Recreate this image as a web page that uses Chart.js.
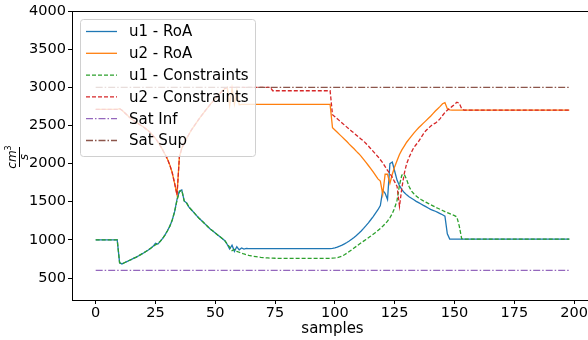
<!DOCTYPE html>
<html>
<head>
<meta charset="utf-8">
<script src="https://cdn.jsdelivr.net/npm/chart.js@4.4.0/dist/chart.umd.min.js"></script>
<style>
  html, body { margin: 0; padding: 0; background: #fff; overflow: hidden; }
  #wrap { width: 600px; height: 340px; }
</style>
</head>
<body>
<div id="wrap"><canvas id="chart" width="600" height="340"></canvas></div>
<script>
// --- data (sample index 0..198) ---
const samples = Array.from({length: 199}, (_, i) => i);

const u1RoA = [
  1000,1000,1000,1000,1000,1000,1000,1000,1000,1000,
  700,685,700,715,730,745,760,775,792,810,
  828,848,868,890,915,955,945,980,1020,1065,
  1120,1180,1260,1370,1530,1640,1655,1510,1485,1430,
  1395,1360,1325,1290,1260,1230,1200,1170,1140,1115,
  1090,1065,1040,1015,990,940,880,930,850,910,
  870,895,880,888,885,885,885,885,885,885,
  885,885,885,885,885,885,885,885,885,885,
  885,885,885,885,885,885,885,885,885,885,
  885,885,885,885,885,885,885,885,885,888,
  895,905,918,932,948,966,986,1008,1032,1058,
  1086,1116,1150,1186,1224,1264,1306,1350,1395,1450,
  1650,1610,1530,2000,2020,1900,1780,1710,1660,1620,
  1590,1565,1545,1525,1505,1488,1470,1452,1435,1418,
  1400,1388,1375,1360,1345,1330,1310,1080,1010,1010,
  1010,1010,1010,1010,1010,1010,1010,1010,1010,1010,
  1010,1010,1010,1010,1010,1010,1010,1010,1010,1010,
  1010,1010,1010,1010,1010,1010,1010,1010,1010,1010,
  1010,1010,1010,1010,1010,1010,1010,1010,1010,1010,
  1010,1010,1010,1010,1010,1010,1010,1010,1010
];

const u2RoA = [
  2710,2710,2710,2710,2710,2710,2710,2710,2710,2710,
  2720,2700,2670,2640,2610,2585,2562,2540,2520,2500,
  2480,2455,2430,2400,2365,2330,2285,2235,2180,2120,
  2060,1980,1880,1740,1590,2090,2200,2270,2330,2385,
  2440,2485,2530,2575,2620,2660,2700,2740,2780,2815,
  2850,2885,2920,2955,2985,3000,2760,2990,2780,2960,
  2770,2775,2775,2775,2775,2775,2775,2775,2775,2775,
  2775,2775,2775,2775,2775,2775,2775,2775,2775,2775,
  2775,2775,2775,2775,2775,2775,2775,2775,2775,2775,
  2775,2775,2775,2775,2775,2775,2775,2775,2775,2470,
  2440,2410,2380,2350,2320,2290,2255,2225,2195,2160,
  2130,2095,2055,2015,1975,1935,1890,1845,1800,1770,
  1600,1860,1860,1740,1860,1960,2040,2120,2180,2230,
  2280,2320,2360,2400,2435,2470,2500,2530,2560,2590,
  2620,2655,2690,2720,2750,2785,2800,2720,2705,2700,
  2700,2700,2700,2700,2700,2700,2700,2700,2700,2700,
  2700,2700,2700,2700,2700,2700,2700,2700,2700,2700,
  2700,2700,2700,2700,2700,2700,2700,2700,2700,2700,
  2700,2700,2700,2700,2700,2700,2700,2700,2700,2700,
  2700,2700,2700,2700,2700,2700,2700,2700,2700
];

const u1Con = [
  1000,1000,1000,1000,1000,1000,1000,1000,1000,1000,
  700,685,700,715,730,745,760,775,792,810,
  828,848,868,890,912,935,955,983,1020,1065,
  1120,1180,1260,1370,1520,1630,1650,1510,1485,1430,
  1395,1360,1325,1290,1260,1230,1200,1170,1140,1115,
  1090,1065,1040,1015,990,945,905,860,875,850,
  838,826,815,806,798,791,785,780,775,771,
  768,765,763,761,760,759,758,758,758,758,
  758,758,758,758,758,758,758,758,758,758,
  758,758,758,758,758,758,758,758,758,760,
  763,768,776,788,805,825,847,870,893,916,
  940,962,984,1006,1028,1050,1074,1098,1124,1150,
  1178,1210,1245,1290,1345,1420,1520,1720,1850,1860,
  1790,1700,1640,1605,1575,1550,1530,1512,1495,1478,
  1462,1446,1430,1415,1400,1385,1370,1356,1343,1330,
  1318,1300,1180,1015,1010,1010,1010,1010,1010,1010,
  1010,1010,1010,1010,1010,1010,1010,1010,1010,1010,
  1010,1010,1010,1010,1010,1010,1010,1010,1010,1010,
  1010,1010,1010,1010,1010,1010,1010,1010,1010,1010,
  1010,1010,1010,1010,1010,1010,1010,1010,1010
];

const u2Con = [
  2710,2710,2710,2710,2710,2710,2710,2710,2710,2710,
  2720,2700,2670,2640,2610,2585,2562,2540,2520,2500,
  2480,2455,2430,2400,2365,2330,2285,2235,2180,2120,
  2060,1980,1880,1740,1590,2090,2200,2270,2330,2385,
  2440,2485,2530,2575,2620,2660,2700,2740,2780,2815,
  2850,2885,2920,2955,2985,3000,3000,3000,3000,3000,
  3000,3000,3000,3000,3000,3000,3000,3000,3000,3000,
  3000,3000,3000,3000,2955,2955,2955,2955,2955,2955,
  2955,2955,2955,2955,2955,2955,2955,2955,2955,2955,
  2955,2955,2955,2955,2955,2955,2955,2955,2955,2640,
  2615,2588,2560,2533,2505,2478,2450,2425,2400,2372,
  2345,2320,2295,2263,2230,2195,2160,2125,2090,2050,
  2010,1960,1910,1870,1820,1760,1700,1440,1680,1870,
  2000,2080,2150,2210,2250,2290,2340,2390,2430,2460,
  2490,2515,2530,2555,2590,2630,2670,2700,2725,2750,
  2775,2805,2790,2720,2700,2700,2700,2700,2700,2700,
  2700,2700,2700,2700,2700,2700,2700,2700,2700,2700,
  2700,2700,2700,2700,2700,2700,2700,2700,2700,2700,
  2700,2700,2700,2700,2700,2700,2700,2700,2700,2700,
  2700,2700,2700,2700,2700,2700,2700,2700,2700
];

// saturation limits: straight lines from first to last sample
const satX = [0, 198];
const satInf = [600, 600];
const satSup = [3000, 3000];

const xTicks = [0, 25, 50, 75, 100, 125, 150, 175, 200];
const yTicks = [500, 1000, 1500, 2000, 2500, 3000, 3500, 4000];

const FONT = 'DejaVu Sans';

function pts(xs, ys) { return xs.map((x, i) => ({x: x, y: ys[i]})); }

function line(label, data, color, dash, order) {
  return {
    label: label, data: data, borderColor: color, backgroundColor: color,
    borderWidth: 1.3, borderDash: dash, pointRadius: 0, tension: 0,
    fill: false, order: order, _dash: dash
  };
}

const DASH = [4, 2];
const DASHDOT = [7, 2, 1.5, 2];

const datasets = [
  line('u1 - RoA', u1RoA, '#1f77b4', [], 6),
  line('u2 - RoA', u2RoA, '#ff7f0e', [], 5),
  line('u1 - Constraints', u1Con, '#2ca02c', DASH, 4),
  line('u2 - Constraints', u2Con, '#d62728', DASH, 3),
  line('Sat Inf', pts(satX, satInf), '#9467bd', DASHDOT, 2),
  line('Sat Sup', pts(satX, satSup), '#8c564b', DASHDOT, 1)
];

// spines drawn above the lines, like matplotlib
const spines = {
  id: 'spines',
  afterDatasetsDraw(chart) {
    const a = chart.chartArea, c = chart.ctx;
    c.save();
    c.strokeStyle = '#000';
    c.lineWidth = 1;
    c.strokeRect(Math.round(a.left) + 0.5, Math.round(a.top) + 0.5,
                 Math.round(a.right - a.left), Math.round(a.bottom - a.top));
    c.restore();
  }
};

// legend box in the upper left corner of the plot
const boxLegend = {
  id: 'boxLegend',
  afterDraw(chart) {
    const c = chart.ctx;
    const x0 = 80.5, y0 = 19.5, w = 175, h = 137, r = 3;
    c.save();
    c.beginPath();
    c.roundRect(x0, y0, w, h, r);
    c.fillStyle = 'rgba(255,255,255,0.8)';
    c.fill();
    c.strokeStyle = '#d0d0d0';
    c.lineWidth = 1;
    c.stroke();
    c.font = '15px "' + FONT + '"';
    c.textBaseline = 'middle';
    c.fillStyle = '#000';
    chart.data.datasets.forEach((ds, k) => {
      const y = 31.5 + k * 21.8;
      c.beginPath();
      c.setLineDash(ds._dash);
      c.strokeStyle = ds.borderColor;
      c.lineWidth = 1.3;
      c.moveTo(86, y);
      c.lineTo(117, y);
      c.stroke();
      c.setLineDash([]);
      c.fillText(ds.label, 129, y + 1);
    });
    c.restore();
  }
};

// y-axis label: fraction cm^3 / s, rotated
const yFraction = {
  id: 'yFraction',
  afterDraw(chart) {
    const c = chart.ctx;
    c.save();
    c.translate(19, 157);
    c.rotate(-Math.PI / 2);
    c.fillStyle = '#000';
    c.strokeStyle = '#000';
    c.lineWidth = 1;
    c.beginPath();
    c.moveTo(-10, 0.5);
    c.lineTo(10, 0.5);
    c.stroke();
    c.textBaseline = 'alphabetic';
    c.font = 'italic 12px "' + FONT + '"';
    const wcm = c.measureText('cm').width;
    c.font = '8px "' + FONT + '"';
    const w3 = c.measureText('3').width;
    const sx = -(wcm + w3) / 2;
    c.font = 'italic 12px "' + FONT + '"';
    c.fillText('cm', sx, -3);
    c.font = '8px "' + FONT + '"';
    c.fillText('3', sx + wcm, -8);
    c.font = 'italic 12px "' + FONT + '"';
    c.textAlign = 'center';
    c.fillText('s', 0, 9);
    c.restore();
  }
};

new Chart(document.getElementById('chart'), {
  type: 'line',
  data: { labels: samples, datasets: datasets },
  options: {
    responsive: false,
    animation: false,
    devicePixelRatio: 1,
    layout: { padding: { top: 11, right: 7, left: 0, bottom: 0 } },
    plugins: { legend: { display: false }, tooltip: { enabled: false } },
    scales: {
      x: {
        type: 'linear',
        min: -9.9, max: 207.9,
        afterFit(s) { s.height = 40; },
        afterBuildTicks(s) { s.ticks = xTicks.map(v => ({value: v})); },
        grid: { display: true, drawOnChartArea: false, drawTicks: true, tickLength: 4, color: '#000' },
        border: { display: false },
        ticks: { color: '#000', font: { family: FONT, size: 14.5 }, padding: 1, maxRotation: 0, autoSkip: false,
                 callback: v => String(v) },
        title: { display: true, text: 'samples', color: '#000', font: { family: FONT, size: 15 }, padding: { top: 0, bottom: 2 } }
      },
      y: {
        min: 212, max: 4000,
        afterFit(s) { s.width = 72; },
        afterBuildTicks(s) { s.ticks = yTicks.map(v => ({value: v})); },
        grid: { display: true, drawOnChartArea: false, drawTicks: true, tickLength: 4, color: '#000' },
        border: { display: false },
        ticks: { color: '#000', font: { family: FONT, size: 14.5 }, padding: 2, autoSkip: false,
                 callback: v => String(v) }
      }
    }
  },
  plugins: [spines, boxLegend, yFraction]
});
</script>
</body>
</html>
